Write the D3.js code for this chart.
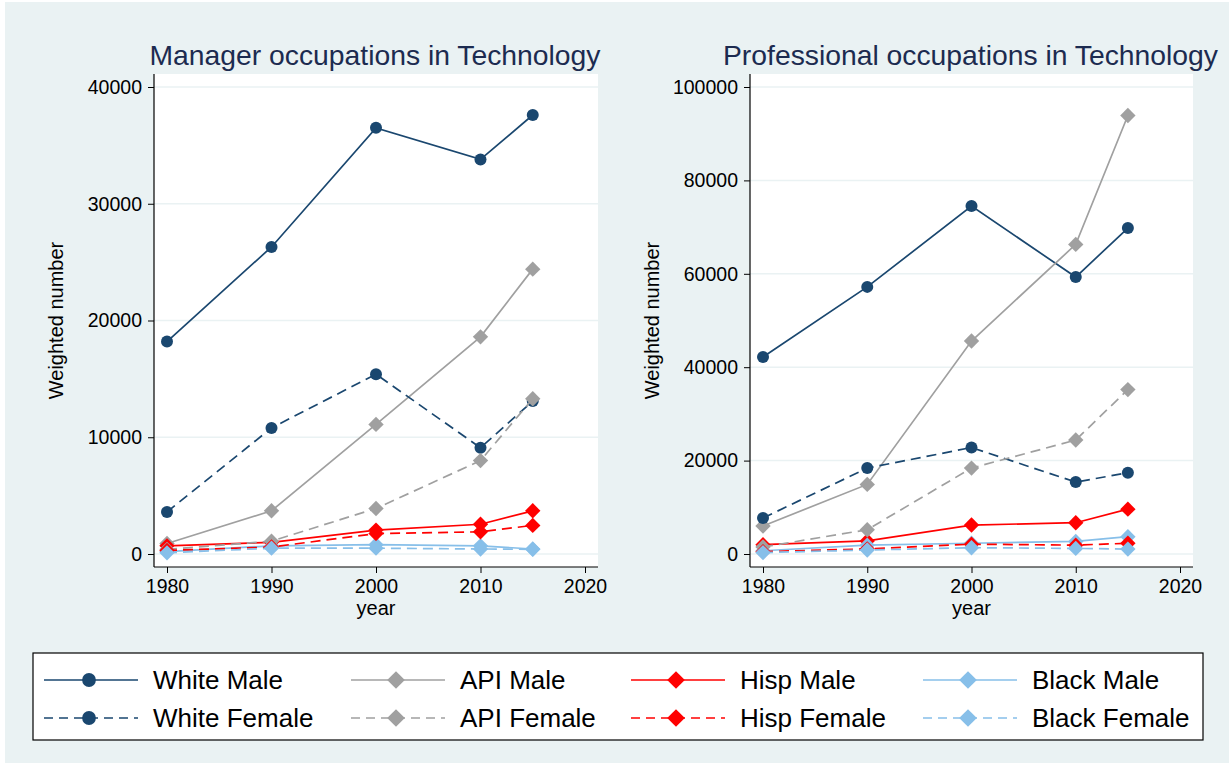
<!DOCTYPE html>
<html>
<head>
<meta charset="utf-8">
<script src="https://cdn.jsdelivr.net/npm/d3@7"></script>
<style>
  body { margin: 0; background: #ffffff; }
  svg { display: block; font-family: "Liberation Sans", Arial, sans-serif; }
</style>
</head>
<body>
<div id="chart"></div>
<script>
// years on the x axis
const years = [1980, 1990, 2000, 2010, 2015];
const yearTicks = [1980, 1990, 2000, 2010, 2020];

const seriesNames = ["White Male", "API Male", "Hisp Male", "Black Male",
                     "White Female", "API Female", "Hisp Female", "Black Female"];

// Manager occupations (weighted number)
const mgrWhiteMale   = [18200, 26300, 36500, 33800, 37600];
const mgrApiMale     = [900, 3700, 11100, 18600, 24400];
const mgrHispMale    = [700, 1000, 2050, 2550, 3700];
const mgrBlackMale   = [200, 700, 800, 700, 430];
const mgrWhiteFemale = [3600, 10800, 15400, 9100, 13100];
const mgrApiFemale   = [400, 1100, 3900, 8000, 13300];
const mgrHispFemale  = [300, 600, 1750, 1900, 2450];
const mgrBlackFemale = [100, 500, 500, 430, 400];
const mgrTicks = [0, 10000, 20000, 30000, 40000];

// Professional occupations (weighted number)
const proWhiteMale   = [42200, 57200, 74500, 59300, 69800];
const proApiMale     = [6000, 14900, 45600, 66300, 93900];
const proHispMale    = [2000, 2800, 6200, 6700, 9600];
const proBlackMale   = [700, 1900, 2300, 2700, 3700];
const proWhiteFemale = [7700, 18400, 22800, 15400, 17400];
const proApiFemale   = [1500, 5200, 18400, 24400, 35200];
const proHispFemale  = [500, 1100, 2100, 1900, 2300];
const proBlackFemale = [300, 850, 1350, 1200, 1050];
const proTicks = [0, 20000, 40000, 60000, 80000, 100000];

// style per series (same order as seriesNames)
const styles = [
    { color: "#1a476f", dash: null,   shape: "circle" },
    { color: "#a0a0a0", dash: null,   shape: "diamond" },
    { color: "#ff0000", dash: null,   shape: "diamond" },
    { color: "#87bfe9", dash: null,   shape: "diamond" },
    { color: "#1a476f", dash: "10,6", shape: "circle" },
    { color: "#a0a0a0", dash: "10,6", shape: "diamond" },
    { color: "#ff0000", dash: "10,6", shape: "diamond" },
    { color: "#87bfe9", dash: "10,6", shape: "diamond" }
];

const W = 1231, H = 765;
const bg = "#eaf2f3";
const titleColor = "#1c2b50";

const svg = d3.select("#chart").append("svg")
    .attr("width", W).attr("height", H);

svg.append("rect").attr("x", 5).attr("y", 2).attr("width", W - 7).attr("height", H - 4)
    .attr("fill", bg);

const drawMarker = (sel, shape, color, cx, cy, scale = 1) => {
    if (shape === "circle") {
        sel.append("circle").attr("cx", cx).attr("cy", cy).attr("r", 6 * scale)
            .attr("fill", color);
    } else {
        sel.append("path")
            .attr("d", d3.symbol().type(d3.symbolSquare).size(118 * scale * scale)())
            .attr("transform", `translate(${cx},${cy}) rotate(45)`)
            .attr("fill", color);
    }
};

const panel = (opts) => {
    const { left, right, title, values, ticks, yMax } = opts;
    const top = 74, bottom = 567, pad = 13;

    const x = d3.scaleLinear().domain([1980, 2020]).range([left + pad, right - pad]);
    const y = d3.scaleLinear().domain([0, yMax]).range([bottom - pad, top + pad]);

    const g = svg.append("g");

    g.append("rect").attr("x", left).attr("y", top)
        .attr("width", right - left).attr("height", bottom - top)
        .attr("fill", "#ffffff");

    // grid lines
    g.append("g").selectAll("line").data(ticks).join("line")
        .attr("x1", left).attr("x2", right)
        .attr("y1", d => y(d)).attr("y2", d => y(d))
        .attr("stroke", bg).attr("stroke-width", 1.5);

    // y axis
    const ya = g.append("g").attr("transform", `translate(${left},0)`)
        .call(d3.axisLeft(y).tickValues(ticks).tickFormat(d3.format("d"))
            .tickSize(6).tickPadding(6).tickSizeOuter(0));
    ya.select(".domain").remove();
    ya.selectAll("text").attr("font-size", 19.5).attr("fill", "#000")
        .attr("font-family", "Liberation Sans, Arial, sans-serif");
    ya.selectAll("line").attr("stroke", "#000");

    // x axis
    const xa = g.append("g").attr("transform", `translate(0,${bottom})`)
        .call(d3.axisBottom(x).tickValues(yearTicks).tickFormat(d3.format("d"))
            .tickSize(6).tickPadding(6).tickSizeOuter(0));
    xa.select(".domain").remove();
    xa.selectAll("text").attr("font-size", 19.5).attr("fill", "#000")
        .attr("font-family", "Liberation Sans, Arial, sans-serif");
    xa.selectAll("line").attr("stroke", "#000");

    // axis lines
    g.append("line").attr("x1", left).attr("x2", left).attr("y1", top).attr("y2", bottom)
        .attr("stroke", "#000").attr("stroke-width", 1.2);
    g.append("line").attr("x1", left).attr("x2", right).attr("y1", bottom).attr("y2", bottom)
        .attr("stroke", "#000").attr("stroke-width", 1.2);

    // titles
    g.append("text").attr("x", (left + right) / 2 - 1).attr("y", 65)
        .attr("text-anchor", "middle").attr("font-size", 28.3).attr("fill", titleColor)
        .text(title);
    g.append("text").attr("x", (left + right) / 2).attr("y", 615)
        .attr("text-anchor", "middle").attr("font-size", 20).text("year");
    g.append("text")
        .attr("transform", `translate(${left - 91},${(top + bottom) / 2}) rotate(-90)`)
        .attr("text-anchor", "middle").attr("font-size", 20).text("Weighted number");

    const line = d3.line().x((d, i) => x(years[i])).y(d => y(d));

    values.forEach((vals, k) => {
        const st = styles[k];
        const sg = g.append("g");
        sg.append("path").datum(vals).attr("d", line)
            .attr("fill", "none").attr("stroke", st.color).attr("stroke-width", 1.7)
            .attr("stroke-dasharray", st.dash);
        vals.forEach((v, i) => drawMarker(sg, st.shape, st.color, x(years[i]), y(v)));
    });
};

panel({
    left: 154, right: 598, yMax: 40000, ticks: mgrTicks,
    title: "Manager occupations in Technology",
    values: [mgrWhiteMale, mgrApiMale, mgrHispMale, mgrBlackMale,
             mgrWhiteFemale, mgrApiFemale, mgrHispFemale, mgrBlackFemale]
});

panel({
    left: 750, right: 1193, yMax: 100000, ticks: proTicks,
    title: "Professional occupations in Technology",
    values: [proWhiteMale, proApiMale, proHispMale, proBlackMale,
             proWhiteFemale, proApiFemale, proHispFemale, proBlackFemale]
});

// legend
const legend = svg.append("g");
legend.append("rect").attr("x", 33).attr("y", 653).attr("width", 1170).attr("height", 87)
    .attr("fill", "#fff").attr("stroke", "#000").attr("stroke-width", 1.2);

const colX = [44, 351, 631, 923];
const rowY = [680, 718];
seriesNames.forEach((name, k) => {
    const st = styles[k];
    const cx = colX[k % 4], cy = rowY[Math.floor(k / 4)];
    const lg = legend.append("g");
    lg.append("line").attr("x1", cx).attr("x2", cx + 94).attr("y1", cy).attr("y2", cy)
        .attr("stroke", st.color).attr("stroke-width", 1.7)
        .attr("stroke-dasharray", st.dash ? "9,6" : null);
    drawMarker(lg, st.shape, st.color, cx + 45, cy, 1.15);
    lg.append("text").attr("x", cx + 109).attr("y", cy + 9.3)
        .attr("font-size", 26).attr("fill", "#000").text(name);
});
</script>
</body>
</html>
